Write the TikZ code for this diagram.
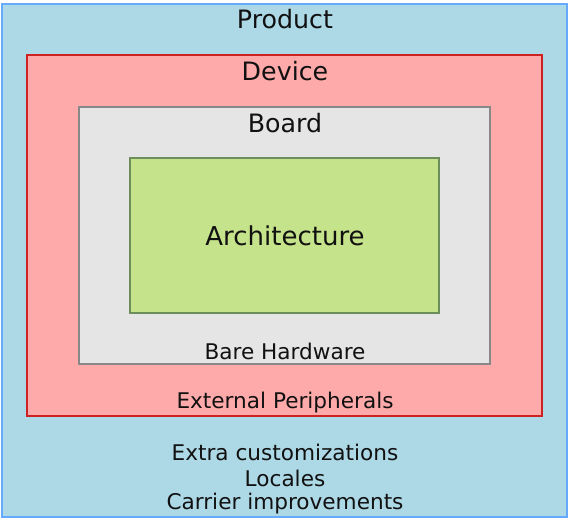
\documentclass[tikz,border=0pt]{standalone}
\usepackage{fontspec}
\setmainfont{DejaVu Sans}
\definecolor{pbg}{HTML}{ADD8E6}
\definecolor{pbd}{HTML}{66AAFF}
\definecolor{dbg}{HTML}{FFAAAA}
\definecolor{dbd}{HTML}{CC2222}
\definecolor{bbg}{HTML}{E5E5E5}
\definecolor{bbd}{HTML}{888888}
\definecolor{abg}{HTML}{C5E38A}
\definecolor{abd}{HTML}{6B8E5A}
\definecolor{txt}{HTML}{111111}
\begin{document}
\begin{tikzpicture}[x=1pt,y=-1pt,
  lbl/.style={text=txt,inner sep=0pt,anchor=center},
  big/.style={lbl,font=\fontsize{25.3}{29}\selectfont},
  small/.style={lbl,font=\fontsize{21.6}{25}\selectfont}]
\useasboundingbox (0,0) rectangle (569,519);
\draw[pbd,fill=pbg,line width=2.2pt] (2,4) rectangle (567,517);
\draw[dbd,fill=dbg,line width=2pt] (27,55) rectangle (542,416);
\draw[bbd,fill=bbg,line width=2pt] (79,107) rectangle (490,364);
\draw[abd,fill=abg,line width=2pt] (130,158) rectangle (439,313);
\node[big] (product) at (285,19) {Product};
\node[big] (device) at (285,71) {Device};
\node[big] (board) at (285,123) {Board};
\node[lbl,font=\fontsize{26}{30}\selectfont] (arch) at (285,236) {Architecture};
\node[small] (bare) at (285,351) {Bare Hardware};
\node[small] (ext) at (285,403) {External Peripherals};
\node[small] (extra) at (285,452) {Extra customizations};
\node[small] (loc) at (285,478) {Locales};
\node[small] (carr) at (285,504) {Carrier improvements};
\end{tikzpicture}
\end{document}
